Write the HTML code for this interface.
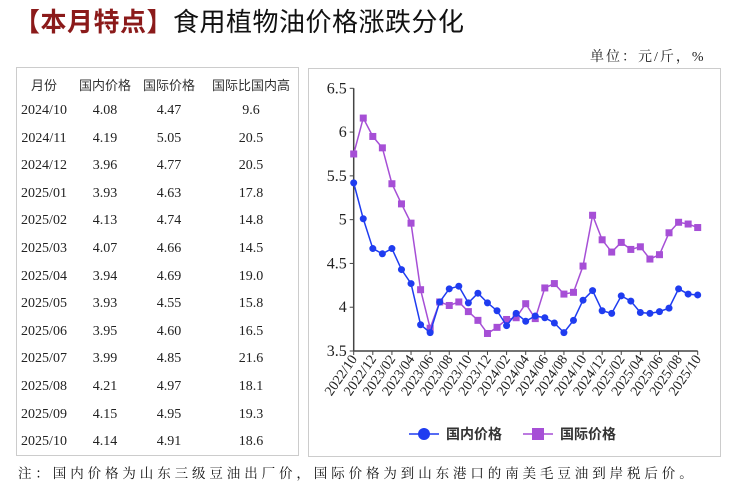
<!DOCTYPE html>
<html><head><meta charset="utf-8"><style>
body{margin:0;width:746px;height:486px;background:#fff;position:relative;overflow:hidden;font-family:"Liberation Serif","Noto Serif CJK SC",serif;}
.t{position:absolute;white-space:nowrap;}
#tbl{position:absolute;left:16px;top:67px;width:283px;height:389px;border:1px solid #ccc;box-sizing:border-box;}
#tbl div{position:absolute;transform:translateX(-50%);font-size:14px;color:#222;white-space:nowrap;}
#panel{position:absolute;left:308px;top:68px;width:413px;height:389px;border:1px solid #ccc;box-sizing:border-box;}
</style></head><body>
<div class="t" style="left:14px;top:2px;font-size:26px;letter-spacing:0.5px;font-family:'Liberation Sans','Noto Sans CJK SC',sans-serif;"><span style="color:#8b1a1a;font-weight:bold">【本月特点】</span><span style="color:#111">食用植物油价格涨跌分化</span></div>
<div class="t" style="left:590px;top:46px;font-size:14px;color:#222;letter-spacing:2px;font-family:'Liberation Serif','Noto Serif CJK SC',serif;">单位：元/斤，%</div>
<div id="tbl"></div>
<div id="panel">
<svg id="svg" width="413" height="389" style="position:absolute;left:0;top:0"></svg>
</div>
<div class="t" style="left:18px;top:462px;font-size:13.5px;color:#111;letter-spacing:3.9px;font-family:'Liberation Serif','Noto Serif CJK SC',serif;">注：国内价格为山东三级豆油出厂价，国际价格为到山东港口的南美毛豆油到岸税后价。</div>
<script>
const rowMonths=["2024/10","2024/11","2024/12","2025/01","2025/02","2025/03","2025/04","2025/05","2025/06","2025/07","2025/08","2025/09","2025/10"];
const rowDom=["4.08","4.19","3.96","3.93","4.13","4.07","3.94","3.93","3.95","3.99","4.21","4.15","4.14"];
const rowIntl=["4.47","5.05","4.77","4.63","4.74","4.66","4.69","4.55","4.60","4.85","4.97","4.95","4.91"];
const rowGap=["9.6","20.5","20.5","17.8","14.8","14.5","19.0","15.8","16.5","21.6","18.1","19.3","18.6"];
const tbl=document.getElementById('tbl');
function cell(txt,x,y,name,cjk){const d=document.createElement('div');d.textContent=txt;d.style.left=x+'px';d.style.top=y+'px';
if(cjk){d.style.fontFamily="'Liberation Sans','Noto Sans CJK SC',sans-serif";d.style.fontSize='13px';d.style.color='#333';}


tbl.appendChild(d);}
const heads=["月份","国内价格","国际价格","国际比国内高"],hx=[27,88,152,234];
heads.forEach((h,i)=>cell(h,hx[i],7,'table-header',true));
rowMonths.forEach((m,i)=>{const y=35+i*27.6;cell(m,27,y,'row-month');cell(rowDom[i],88,y,'row-domestic');cell(rowIntl[i],152,y,'row-international');cell(rowGap[i],234,y,'row-gap');});

const categories=[];for(let i=0;i<37;i++){const m=10+i;const yr=2022+Math.floor((m-1)/12);const mo=((m-1)%12)+1;categories.push(yr+'/'+String(mo).padStart(2,'0'));}
const domestic=[5.42,5.01,4.67,4.61,4.67,4.43,4.27,3.80,3.71,4.06,4.21,4.24,4.05,4.16,4.05,3.96,3.79,3.93,3.84,3.90,3.88,3.82,3.71,3.85,4.08,4.19,3.96,3.93,4.13,4.07,3.94,3.93,3.95,3.99,4.21,4.15,4.14];
const international=[5.75,6.16,5.95,5.82,5.41,5.18,4.96,4.20,3.76,4.06,4.02,4.06,3.95,3.85,3.70,3.77,3.86,3.88,4.04,3.87,4.22,4.27,4.15,4.17,4.47,5.05,4.77,4.63,4.74,4.66,4.69,4.55,4.60,4.85,4.97,4.95,4.91];
const yTicks=[3.5,4,4.5,5,5.5,6,6.5];
const NS='http://www.w3.org/2000/svg',svg=document.getElementById('svg');
const X0=352.7-308,X1=696.7-308,Y0=350-68,Y1=87.3-68;
const xs=i=>X0+i*(X1-X0)/(categories.length-1);
const ys=v=>Y0+(v-3.5)/(6.5-3.5)*(Y1-Y0);
function el(t,a){const e=document.createElementNS(NS,t);for(const k in a)e.setAttribute(k,a[k]);svg.appendChild(e);return e;}
let e=el('line',{x1:X0,y1:Y1,x2:X0,y2:Y0,stroke:'#444','stroke-width':1.5});


e=el('line',{x1:X0,y1:Y0,x2:X1,y2:Y0,stroke:'#444','stroke-width':1.5});


yTicks.forEach(v=>{el('line',{x1:X0-4,y1:ys(v),x2:X0,y2:ys(v),stroke:'#444'});
const t=el('text',{x:X0-7,y:ys(v)+5,'text-anchor':'end','font-size':16,fill:'#222','font-family':'Liberation Serif'});t.textContent=v;

});
categories.forEach((c,i)=>{if(i%2)return;const x=xs(i);el('line',{x1:x,y1:Y0,x2:x,y2:Y0+4,stroke:'#444'});
const t=el('text',{x:x+4,y:Y0+8,'text-anchor':'end','font-size':14,fill:'#222','font-family':'Liberation Serif',transform:`rotate(-55 ${x+4} ${Y0+8})`});t.textContent=c;

});
function series(vals,col,sq,name){const p=el('polyline',{points:vals.map((v,i)=>xs(i)+','+ys(v)).join(' '),fill:'none',stroke:col,'stroke-width':1.5});


vals.forEach((v,i)=>{const m=sq?el('rect',{x:xs(i)-3.5,y:ys(v)-3.5,width:7,height:7,fill:col}):el('circle',{cx:xs(i),cy:ys(v),r:3.5,fill:col});

});}
series(international,'#a64fd6',true,'international');
series(domestic,'#1f3cf0',false,'domestic');
el('line',{x1:100,y1:365,x2:130,y2:365,stroke:'#1f3cf0','stroke-width':1.5});
el('circle',{cx:115,cy:365,r:6,fill:'#1f3cf0'});
let lt=el('text',{x:137,y:370,'font-size':14,fill:'#333','font-weight':'bold','font-family':'Liberation Sans, Noto Sans CJK SC, sans-serif'});lt.textContent='国内价格';


el('line',{x1:214,y1:365,x2:244,y2:365,stroke:'#a64fd6','stroke-width':1.5});
el('rect',{x:223,y:359,width:12,height:12,fill:'#a64fd6'});
lt=el('text',{x:251,y:370,'font-size':14,fill:'#333','font-weight':'bold','font-family':'Liberation Sans, Noto Sans CJK SC, sans-serif'});lt.textContent='国际价格';


</script>
</body></html>
